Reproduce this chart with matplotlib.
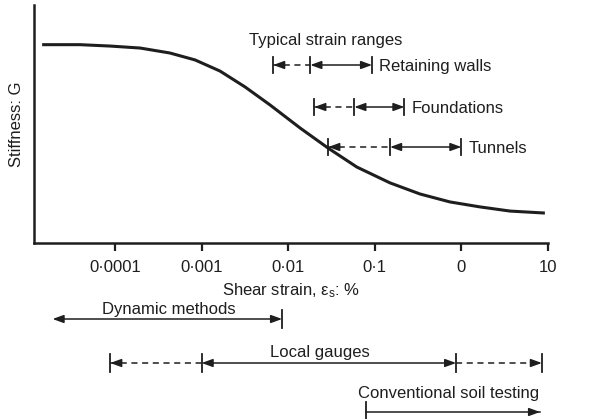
import matplotlib
matplotlib.use("Agg")
import matplotlib.pyplot as plt
import matplotlib.transforms as mtransforms

plt.rcParams['font.family'] = ['Liberation Sans', 'DejaVu Sans']
plt.rcParams['mathtext.fontset'] = 'custom'
plt.rcParams['mathtext.rm'] = 'Liberation Sans'
plt.rcParams['mathtext.it'] = 'Liberation Sans:italic'

# ---- data ----
strain = [1.44e-5, 3.94e-5, 8.8e-5, 1.95e-4, 4.3e-4, 8.4e-4, 1.63e-3, 3.17e-3,
          6.17e-3, 0.0137, 0.0288, 0.062, 0.15, 0.333, 0.738, 1.64, 3.64, 9.2]
stiffness = [1.0, 1.0, 0.993, 0.983, 0.958, 0.923, 0.867, 0.787,
             0.696, 0.580, 0.479, 0.383, 0.303, 0.247, 0.207, 0.182, 0.161, 0.151]

tick_values = [1e-4, 1e-3, 1e-2, 1e-1, 1, 10]
tick_labels = ['0\u00b70001', '0\u00b7001', '0\u00b701', '0\u00b71', '0', '10']

# typical strain ranges: (label, start, mid, end)
range_labels = ['Retaining walls', 'Foundations', 'Tunnels']
range_start = [0.0067, 0.020, 0.029]
range_mid = [0.018, 0.058, 0.15]
range_end = [0.093, 0.22, 1.0]

# test methods
dynamic_range = [1.9e-5, 0.0085]
local_gauges = [8.8e-5, 0.001, 0.87, 8.5]
conventional_range = [0.079, 8.1]

W, H = 590, 419
fig = plt.figure(figsize=(W / 100, H / 100), dpi=100)
ax = fig.add_axes([34 / W, 1 - 243 / H, (548 - 34) / W, (243 - 5) / H])

ink = '#1e1e1e'
ax.plot(strain, stiffness, color=ink, lw=2.2, solid_capstyle='butt',
        solid_joinstyle='round')
ax.set_xscale('log')
ax.set_xlim(1.16e-5, 10)
ax.set_ylim(0, 1.2)
ax.set_xticks(tick_values)
ax.set_xticklabels(tick_labels, fontsize=12, color=ink)
ax.minorticks_off()
ax.set_yticks([])
ax.tick_params(axis='x', direction='out', length=6, width=1.6, color=ink, pad=6)
for s in ['top', 'right']:
    ax.spines[s].set_visible(False)
for s in ['left', 'bottom']:
    ax.spines[s].set_linewidth(1.8)
    ax.spines[s].set_color(ink)

ax.set_ylabel('Stiffness: G', fontsize=12, color=ink, labelpad=7)
ax.set_xlabel('Shear strain, \u03b5$_\\mathrm{s}$: %', fontsize=12, color=ink, labelpad=5)

trans = mtransforms.blended_transform_factory(ax.transData, fig.transFigure)
co = ('data', 'figure fraction')


def fy(py):
    return 1 - py / H


def seg(x0, x1, py, dashed=False):
    ax.plot([x0, x1], [fy(py), fy(py)], color=ink, lw=1.1,
            ls=(0, (4, 3)) if dashed else '-', transform=trans, clip_on=False)


def tick(x, py, up=8, down=8):
    ax.plot([x, x], [fy(py - up), fy(py + down)], color=ink, lw=1.3,
            transform=trans, clip_on=False)


astyle = '-|>,head_length=0.55,head_width=0.2'


def head(x, py, direction):
    # direction: -1 points left, +1 points right
    ax.annotate('', xy=(x, fy(py)), xycoords=co,
                xytext=(-direction * 8, 0), textcoords='offset points',
                arrowprops=dict(arrowstyle=astyle, color=ink, lw=1.1,
                                shrinkA=0, shrinkB=0, mutation_scale=12),
                annotation_clip=False)


def double(x0, x1, py):
    ax.annotate('', xy=(x1, fy(py)), xycoords=co, xytext=(x0, fy(py)), textcoords=co,
                arrowprops=dict(arrowstyle='<|-|>,head_length=0.55,head_width=0.2',
                                color=ink, lw=1.1, shrinkA=0, shrinkB=0,
                                mutation_scale=12),
                annotation_clip=False)


# typical strain ranges
ax.text(0.0273, fy(40), 'Typical strain ranges', transform=trans, ha='center',
        va='center', fontsize=12, color=ink)
row_py = [65, 107, 147]
for lab, a, m, e, py in zip(range_labels, range_start, range_mid, range_end, row_py):
    seg(a, m, py, dashed=True)
    head(a, py, -1)
    double(m, e, py)
    tick(a, py)
    tick(m, py)
    tick(e, py)
    ax.annotate(lab, xy=(e, fy(py)), xycoords=co, xytext=(5, -1),
                textcoords='offset points', ha='left', va='center',
                fontsize=12, color=ink, annotation_clip=False)

# dynamic methods
py = 319
double(dynamic_range[0], dynamic_range[1], py)
tick(dynamic_range[1], py, 9, 9)
ax.text(4.2e-4, fy(309), 'Dynamic methods', transform=trans, ha='center',
        va='center', fontsize=12, color=ink)

# local gauges
py = 363
seg(local_gauges[0], local_gauges[1], py, dashed=True)
head(local_gauges[0], py, -1)
double(local_gauges[1], local_gauges[2], py)
seg(local_gauges[2], local_gauges[3], py, dashed=True)
head(local_gauges[3], py, 1)
for x in local_gauges:
    tick(x, py, 9, 9)
ax.text(0.0233, fy(353), 'Local gauges', transform=trans, ha='center',
        va='center', fontsize=12, color=ink)

# conventional soil testing
py = 412
seg(conventional_range[0], conventional_range[1], py)
head(conventional_range[1], py, 1)
tick(conventional_range[0], py, 10, 10)
ax.text(0.72, fy(393), 'Conventional soil testing', transform=trans, ha='center',
        va='center', fontsize=12, color=ink)

fig.savefig('out.png', dpi=100)
